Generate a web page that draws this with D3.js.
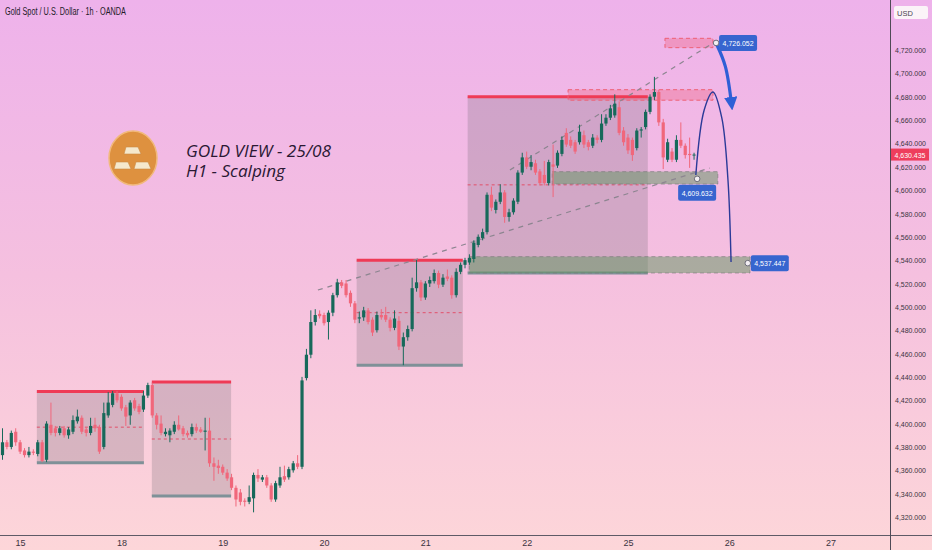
<!DOCTYPE html>
<html>
<head>
<meta charset="utf-8">
<script src="https://cdn.jsdelivr.net/npm/d3@7"></script>
<style>
html, body { margin: 0; padding: 0; background: #f6c2df; }
svg { display: block; font-family: "Liberation Sans", Arial, sans-serif; }
.axis-y text { fill: #3b3340; font-size: 8px; }
.axis-x text { fill: #3b3340; font-size: 9px; }
</style>
</head>
<body>
<div class="app"></div>
<script>
'use strict'

var width = 932;
var height = 550;

// hourly candles, index 0 = first bar on the left
var open = [
  4373,4384,4380,4393,4384,4377,4373,4376,4374,4384,
  4369,4399,4396,4392,4396,4390,4393,4402,4405,4395,
  4392,4399,4397,4380,4407,4416,4426,4423,4414,4407,
  4420,4415,4412,4424,4433,4407,4400,4391,4390,4393,
  4399,4396,4392,4391,4397,4395,4393,4394,4366,4364,
  4363,4358,4354,4345,4341,4334,4333,4336,4356,4352,
  4354,4347,4335,4347,4355,4354,4360,4366,4363,4439,
  4459,4487,4494,4493,4487,4495,4510,4521,4520,4512,
  4503,4490,4491,4497,4489,4480,4493,4493,4489,4482,
  4488,4466,4474,4481,4516,4521,4508,4520,4522,4529,
  4519,4526,4525,4510,4530,4536,4538,4541,4553,4559,
  4564,4596,4583,4590,4598,4577,4581,4590,4615,4628,
  4620,4623,4616,4613,4606,4622,4621,4631,4649,4643,
  4641,4641,4647,4641,4638,4645,4643,4657,4662,4664,
  4671,4651,4645,4643,4636,4651,4654,4667,4680,4684,
  4658,4626,4633,4626,4643,4638,4631,4630
];
var high = [
  4396,4386,4394,4396,4386,4379,4380,4378,4386,4386,
  4402,4418,4398,4398,4398,4397,4407,4412,4407,4397,
  4405,4405,4399,4418,4427,4428,4428,4425,4416,4420,
  4422,4417,4428,4435,4435,4409,4407,4396,4396,4402,
  4407,4398,4394,4400,4400,4397,4405,4405,4371,4369,
  4365,4361,4357,4347,4344,4336,4347,4358,4361,4356,
  4356,4349,4351,4363,4364,4363,4368,4373,4440,4464,
  4497,4498,4497,4495,4497,4512,4524,4523,4523,4514,
  4505,4496,4500,4499,4491,4496,4498,4500,4491,4497,
  4492,4478,4484,4525,4540,4523,4522,4526,4532,4531,
  4528,4532,4527,4533,4538,4542,4545,4557,4562,4567,
  4598,4603,4592,4605,4600,4584,4593,4617,4632,4633,
  4630,4626,4618,4625,4626,4639,4634,4646,4653,4646,
  4643,4656,4651,4643,4648,4647,4665,4665,4673,4682,
  4676,4654,4648,4645,4653,4654,4669,4682,4697,4686,
  4661,4644,4636,4647,4658,4640,4645,4632
];
var low = [
  4369,4378,4378,4381,4374,4371,4371,4373,4372,4367,
  4367,4390,4389,4390,4388,4387,4391,4400,4391,4389,
  4390,4393,4374,4378,4405,4414,4418,4411,4398,4399,
  4411,4408,4410,4422,4405,4395,4390,4389,4384,4391,
  4394,4389,4388,4389,4392,4392,4377,4363,4351,4357,
  4356,4351,4343,4329,4330,4329,4331,4324,4350,4350,
  4345,4333,4333,4345,4350,4352,4358,4361,4361,4437,
  4456,4484,4490,4484,4472,4492,4508,4516,4508,4500,
  4486,4486,4488,4485,4475,4478,4489,4487,4479,4480,
  4463,4450,4471,4479,4513,4505,4506,4517,4520,4516,
  4517,4522,4507,4508,4528,4533,4536,4538,4551,4557,
  4562,4582,4580,4588,4572,4573,4579,4588,4613,4618,
  4617,4613,4604,4604,4604,4594,4619,4629,4637,4636,
  4631,4639,4636,4634,4636,4640,4641,4655,4660,4662,
  4647,4638,4631,4625,4634,4645,4652,4665,4677,4655,
  4618,4624,4624,4624,4636,4627,4619,4626
];
var close = [
  4384,4380,4392,4384,4376,4373,4376,4375,4384,4368,
  4400,4392,4392,4396,4390,4395,4403,4406,4393,4392,
  4398,4396,4376,4409,4418,4426,4420,4413,4406,4418,
  4413,4410,4424,4433,4407,4399,4392,4393,4394,4399,
  4395,4391,4390,4397,4394,4393,4394,4366,4363,4362,
  4358,4353,4345,4335,4333,4333,4337,4356,4353,4354,
  4347,4335,4349,4354,4352,4361,4366,4363,4437,4459,
  4487,4493,4492,4486,4495,4510,4521,4518,4510,4503,
  4489,4491,4497,4487,4478,4493,4491,4489,4482,4490,
  4466,4474,4481,4516,4521,4508,4520,4523,4529,4519,
  4525,4524,4510,4530,4536,4540,4542,4555,4560,4564,
  4596,4585,4590,4598,4577,4581,4591,4615,4628,4620,
  4624,4615,4606,4606,4624,4620,4632,4643,4639,4638,
  4633,4650,4639,4637,4645,4643,4657,4662,4670,4674,
  4649,4641,4634,4630,4651,4652,4667,4680,4684,4658,
  4628,4641,4626,4643,4638,4630,4630,4630.435
];

var priceTicks = d3.range(4320, 4721, 20);
var dayTicks = [4, 27, 50, 73, 96, 119, 142, 165, 188];
var dayLabels = ["15", "18", "19", "20", "21", "22", "25", "26", "27"];
var lastPrice = 4630.435;

// range boxes (bar index, price)
var boxStart = [7.8, 33.9, 80.4, 105.6];
var boxEnd = [32.1, 51.9, 104.5, 146.5];
var boxTop = [4427.4, 4435.6, 4540, 4680];
var boxBottom = [4366.5, 4338, 4450, 4529];

// supply / demand zones
var zoneStart = [124.8, 106, 128.4, 150.4];
var zoneEnd = [162.4, 169.7, 161.3, 161.3];
var zoneTop = [4615.8, 4543, 4686, 4730];
var zoneBottom = [4605.2, 4529, 4677, 4722];
var zoneKind = ["buy", "buy", "sell", "sell"];

// dashed trend lines [index, price]
var trendLines = [
  [[71.6, 4514.4], [160.6, 4618.9]],
  [[115.2, 4617.2], [161.3, 4726]]
];

// price targets
var targetValues = [4726.052, 4609.632, 4537.447];
var targetIndex = [162.0, 157.7, 169.2];

// projected path
var pathIndex = [157.4, 159.3, 161.3, 163.3, 164.7, 165.4];
var pathPrice = [4612.9, 4668.6, 4684, 4661.8, 4608.7, 4538.4];
var arrowIndex = [162.2, 164.1, 165.5];
var arrowPrice = [4724.3, 4706, 4674];

var svg = d3.select(".app")
  .append("svg")
  .attr("width", width)
  .attr("height", height);

var xScale = d3.scaleLinear()
  .domain([0, 188])
  .range([2.5, 830.6]);

var yScale = d3.scaleLinear()
  .domain([4320, 4720])
  .range([517, 50]);

var defs = svg.append("defs");
var grad = defs.append("linearGradient")
  .attr("id", "bg")
  .attr("x1", 0).attr("y1", 0).attr("x2", 0).attr("y2", 1);
grad.append("stop").attr("offset", "0%").attr("stop-color", "#eeb2eb");
grad.append("stop").attr("offset", "50%").attr("stop-color", "#f5c0df");
grad.append("stop").attr("offset", "100%").attr("stop-color", "#fdd6d9");

defs.append("clipPath").attr("id", "plot")
  .append("rect").attr("x", 0).attr("y", 0).attr("width", 890).attr("height", 535);

defs.append("marker")
  .attr("id", "head")
  .attr("viewBox", "0 0 10 10")
  .attr("refX", 5).attr("refY", 5)
  .attr("markerWidth", 4.2).attr("markerHeight", 4.2)
  .attr("orient", "auto")
  .append("path")
  .attr("d", "M0,0 L10,5 L0,10 z")
  .attr("fill", "#2f5fd6");

svg.append("rect")
  .attr("width", width)
  .attr("height", height)
  .attr("fill", "url(#bg)");

var plot = svg.append("g").attr("clip-path", "url(#plot)");

// boxes
var boxIdx = d3.range(boxStart.length);
plot.selectAll("rect.box")
  .data(boxIdx)
  .join("rect")
  .attr("x", function(i) { return xScale(boxStart[i]); })
  .attr("y", function(i) { return yScale(boxTop[i]); })
  .attr("width", function(i) { return xScale(boxEnd[i]) - xScale(boxStart[i]); })
  .attr("height", function(i) { return yScale(boxBottom[i]) - yScale(boxTop[i]); })
  .attr("fill", "rgba(105,100,110,0.24)");

plot.selectAll("line.box-mid")
  .data(boxIdx)
  .join("line")
  .attr("x1", function(i) { return xScale(boxStart[i]); })
  .attr("x2", function(i) { return xScale(boxEnd[i]); })
  .attr("y1", function(i) { return yScale((boxTop[i] + boxBottom[i]) / 2); })
  .attr("y2", function(i) { return yScale((boxTop[i] + boxBottom[i]) / 2); })
  .attr("stroke", "#e2506a")
  .attr("stroke-width", 1)
  .attr("stroke-dasharray", "3,3");

plot.selectAll("line.box-bottom")
  .data(boxIdx)
  .join("line")
  .attr("x1", function(i) { return xScale(boxStart[i]); })
  .attr("x2", function(i) { return xScale(boxEnd[i]); })
  .attr("y1", function(i) { return yScale(boxBottom[i]); })
  .attr("y2", function(i) { return yScale(boxBottom[i]); })
  .attr("stroke", "#7f9198")
  .attr("stroke-width", 3);

plot.selectAll("line.box-top")
  .data(boxIdx)
  .join("line")
  .attr("x1", function(i) { return xScale(boxStart[i]); })
  .attr("x2", function(i) { return xScale(boxEnd[i]); })
  .attr("y1", function(i) { return yScale(boxTop[i]); })
  .attr("y2", function(i) { return yScale(boxTop[i]); })
  .attr("stroke", "#ef3a56")
  .attr("stroke-width", 3);

// zones
plot.selectAll("rect.zone")
  .data(d3.range(zoneStart.length))
  .join("rect")
  .attr("x", function(i) { return xScale(zoneStart[i]); })
  .attr("y", function(i) { return yScale(zoneTop[i]); })
  .attr("width", function(i) { return xScale(zoneEnd[i]) - xScale(zoneStart[i]); })
  .attr("height", function(i) { return yScale(zoneBottom[i]) - yScale(zoneTop[i]); })
  .attr("fill", function(i) { return zoneKind[i] == "buy" ? "rgba(95,150,95,0.5)" : "rgba(240,60,80,0.25)"; })
  .attr("stroke", function(i) { return zoneKind[i] == "buy" ? "rgba(120,120,120,0.6)" : "#ee6075"; })
  .attr("stroke-width", 1)
  .attr("stroke-dasharray", "4,3");

// trend lines
var line = d3.line()
  .x(function(d) { return xScale(d[0]); })
  .y(function(d) { return yScale(d[1]); });

plot.selectAll("path.trend")
  .data(trendLines)
  .join("path")
  .attr("d", line)
  .attr("fill", "none")
  .attr("stroke", "#8c8590")
  .attr("stroke-width", 1.2)
  .attr("stroke-dasharray", "5,5");

// candles
var candles = d3.range(open.length);
var up = "#17695a";
var down = "#f0677b";
var colour = function(i) { return close[i] >= open[i] ? up : down; };

plot.selectAll("line.wick")
  .data(candles)
  .join("line")
  .attr("x1", function(i) { return xScale(i); })
  .attr("x2", function(i) { return xScale(i); })
  .attr("y1", function(i) { return yScale(high[i]); })
  .attr("y2", function(i) { return yScale(low[i]); })
  .attr("stroke", colour)
  .attr("stroke-width", 1);

plot.selectAll("rect.body")
  .data(candles)
  .join("rect")
  .attr("x", function(i) { return xScale(i) - 1.6; })
  .attr("width", 3.2)
  .attr("y", function(i) { return yScale(Math.max(open[i], close[i])); })
  .attr("height", function(i) { return Math.max(1, Math.abs(yScale(open[i]) - yScale(close[i]))); })
  .attr("fill", colour);

// projection curve
var curve = d3.line()
  .curve(d3.curveCatmullRom)
  .x(function(d) { return xScale(pathIndex[d]); })
  .y(function(d) { return yScale(pathPrice[d]); });

plot.append("path")
  .attr("d", curve(d3.range(pathIndex.length)))
  .attr("fill", "none")
  .attr("stroke", "#2b3a98")
  .attr("stroke-width", 1.4);

var arrow = d3.line()
  .curve(d3.curveCatmullRom)
  .x(function(d) { return xScale(arrowIndex[d]); })
  .y(function(d) { return yScale(arrowPrice[d]); });

plot.append("path")
  .attr("d", arrow(d3.range(arrowIndex.length)))
  .attr("fill", "none")
  .attr("stroke", "#2f5fd6")
  .attr("stroke-width", 3.2)
  .attr("marker-end", "url(#head)");

// targets
var fmt = d3.format(",.3f");
var tg = plot.selectAll("g.target")
  .data(d3.range(targetValues.length))
  .join("g")
  .attr("transform", function(i) {
    return "translate(" + xScale(targetIndex[i]) + "," + yScale(targetValues[i]) + ")";
  });

tg.append("circle")
  .attr("r", 2.8)
  .attr("fill", "#f2eef2")
  .attr("stroke", "#6d6d7a")
  .attr("stroke-width", 1);

tg.append("rect")
  .attr("x", function(i) { return i == 1 ? -19 : 3; })
  .attr("y", function(i) { return i == 1 ? 6 : -8; })
  .attr("width", 38)
  .attr("height", 16)
  .attr("rx", 2)
  .attr("fill", "#3765cf");

tg.append("text")
  .attr("x", function(i) { return i == 1 ? 0 : 22; })
  .attr("y", function(i) { return i == 1 ? 17 : 3; })
  .attr("text-anchor", "middle")
  .attr("fill", "#ffffff")
  .attr("font-size", 7)
  .attr("textLength", 31)
  .attr("lengthAdjust", "spacingAndGlyphs")
  .text(function(i) { return fmt(targetValues[i]); });

// axes
var yAxis = d3.axisRight(yScale)
  .tickValues(priceTicks)
  .tickFormat(fmt)
  .tickSize(0)
  .tickPadding(5);

var gy = svg.append("g")
  .attr("class", "axis-y")
  .attr("transform", "translate(890,0)")
  .call(yAxis);
gy.select(".domain").remove();
gy.selectAll("text")
  .attr("textLength", 31)
  .attr("lengthAdjust", "spacingAndGlyphs");

var xAxis = d3.axisBottom(xScale)
  .tickValues(dayTicks)
  .tickFormat(function(d, i) { return dayLabels[i]; })
  .tickSize(0)
  .tickPadding(5);

var gx = svg.append("g")
  .attr("class", "axis-x")
  .attr("transform", "translate(0,535)")
  .call(xAxis);
gx.select(".domain").remove();

svg.append("line")
  .attr("x1", 0).attr("x2", width)
  .attr("y1", 535.5).attr("y2", 535.5)
  .attr("stroke", "#5f5a66")
  .attr("stroke-width", 1);

svg.append("line")
  .attr("x1", 890.5).attr("x2", 890.5)
  .attr("y1", 0).attr("y2", height)
  .attr("stroke", "#4f4a56")
  .attr("stroke-width", 1);

// last price tag
svg.append("rect")
  .attr("x", 891)
  .attr("y", yScale(lastPrice) - 6)
  .attr("width", 38)
  .attr("height", 12)
  .attr("fill", "#ee3d5c");
svg.append("text")
  .attr("x", 910)
  .attr("y", yScale(lastPrice) + 3)
  .attr("text-anchor", "middle")
  .attr("fill", "#ffffff")
  .attr("font-size", 8)
  .attr("textLength", 31)
  .attr("lengthAdjust", "spacingAndGlyphs")
  .text(fmt(lastPrice));

// currency box
svg.append("rect")
  .attr("x", 894).attr("y", 6)
  .attr("width", 34).attr("height", 13)
  .attr("rx", 2)
  .attr("fill", "#fbf3f8");
svg.append("text")
  .attr("x", 897).attr("y", 15.5)
  .attr("fill", "#4a4450")
  .attr("font-size", 7.5)
  .text("USD");

// header
svg.append("text")
  .attr("x", 5).attr("y", 15)
  .attr("fill", "#231a28")
  .attr("font-size", 10)
  .attr("textLength", 121)
  .attr("lengthAdjust", "spacingAndGlyphs")
  .text("Gold Spot / U.S. Dollar · 1h · OANDA");

// logo
var logo = svg.append("g").attr("transform", "translate(133,158)");
logo.append("ellipse")
  .attr("rx", 24).attr("ry", 27)
  .attr("fill", "#de913f")
  .attr("stroke", "#f1b97c")
  .attr("stroke-width", 1.5);
var bars = [[0, -8], [-10, 7], [10, 7]];
logo.selectAll("path.bar")
  .data(bars)
  .join("path")
  .attr("transform", function(d) { return "translate(" + d[0] + "," + d[1] + ")"; })
  .attr("d", "M-7,-3 L5,-3 L8,4 L-9,4 Z")
  .attr("fill", "#f5e8cc")
  .attr("stroke", "#c98a44")
  .attr("stroke-width", 0.6);

svg.append("text")
  .attr("x", 186).attr("y", 157)
  .attr("fill", "#2a1833")
  .attr("font-family", "Open Sans, sans-serif")
  .attr("font-style", "italic")
  .attr("font-size", 15.5)
  .attr("textLength", 145)
  .attr("lengthAdjust", "spacingAndGlyphs")
  .text("GOLD VIEW - 25/08");

svg.append("text")
  .attr("x", 186).attr("y", 177)
  .attr("fill", "#2a1833")
  .attr("font-family", "Open Sans, sans-serif")
  .attr("font-style", "italic")
  .attr("font-size", 15.5)
  .attr("textLength", 99)
  .attr("lengthAdjust", "spacingAndGlyphs")
  .text("H1 - Scalping");
</script>
</body>
</html>
